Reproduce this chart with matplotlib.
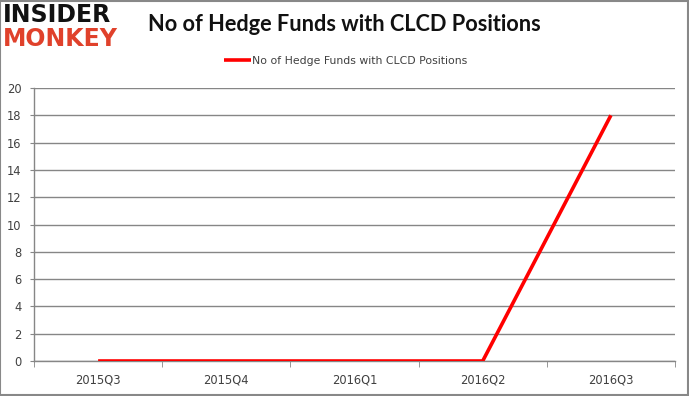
import numpy as np
import matplotlib
matplotlib.use("Agg")
import matplotlib.pyplot as plt
from matplotlib.patches import Rectangle

# chart data
quarters = ["2015Q3", "2015Q4", "2016Q1", "2016Q2", "2016Q3"]
funds = [0, 0, 0, 0, 18]
yticks = [0, 2, 4, 6, 8, 10, 12, 14, 16, 18, 20]
series_name = "No of Hedge Funds with CLCD Positions"
title = "No of Hedge Funds with CLCD Positions"

grid_col = "#868686"
text_col = "#404040"

fig = plt.figure(figsize=(6.89, 3.96), dpi=100)
ax = fig.add_axes([34 / 689, 35 / 396, 641 / 689, 273 / 396])

x = np.arange(len(quarters))
line, = ax.plot(x, funds, color="#ff0000", lw=2.6, solid_capstyle="butt",
                solid_joinstyle="miter", label=series_name, zorder=3)

ax.set_xlim(-0.5, len(quarters) - 0.5)
ax.set_ylim(0, 20)
ax.set_yticks(yticks)
ax.set_xticks(x)
ax.set_xticklabels(quarters)
ax.set_xticks(np.arange(len(quarters) + 1) - 0.5, minor=True)

ax.grid(axis="y", color=grid_col, lw=1)
ax.set_axisbelow(True)
for s in ["top", "right"]:
    ax.spines[s].set_visible(False)
for s in ["left", "bottom"]:
    ax.spines[s].set_color(grid_col)
    ax.spines[s].set_linewidth(1)

ax.tick_params(axis="y", length=3, color=grid_col, pad=6, labelsize=8.3, labelcolor=text_col)
ax.tick_params(axis="x", which="major", length=0, pad=9, labelsize=8.3, labelcolor=text_col)
ax.tick_params(axis="x", which="minor", length=4, color=grid_col)

fig.text(0.5, 0.937, title, ha="center", va="center", fontsize=15.7,
         fontweight="bold", family=["Lato", "DejaVu Sans"], color="#111111")

leg = fig.legend(handles=[line], loc="center", bbox_to_anchor=(0.502, 0.846),
                 frameon=False, fontsize=7.8, handlelength=2.5, handletextpad=0.1,
                 labelcolor=text_col)

# logo
fig.text(0.004, 0.962, "INSIDER", ha="left", va="center", fontsize=17,
         fontweight="black", family=["DejaVu Sans"], color="#111111")
fig.text(0.004, 0.902, "MONKEY", ha="left", va="center", fontsize=17,
         fontweight="black", family=["DejaVu Sans"], color="#e0412b")

# outer frame
fig.patches.append(Rectangle((0.0007, 0.003), 0.9975, 0.995, transform=fig.transFigure,
                             fill=False, edgecolor="#888888", lw=1.5))

fig.savefig("out.png", dpi=100)
